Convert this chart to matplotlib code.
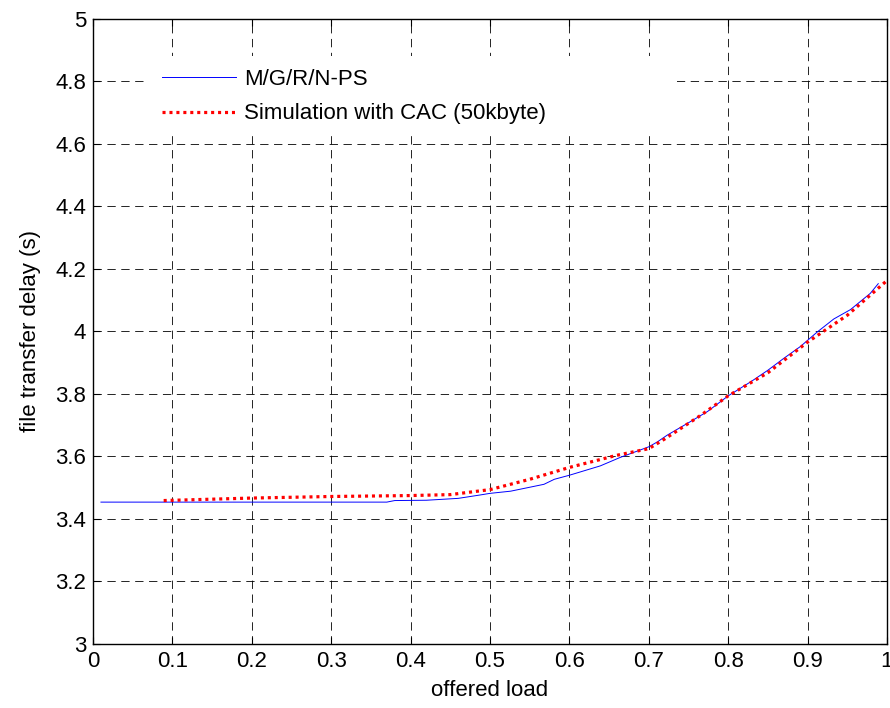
import matplotlib
matplotlib.use('Agg')
import matplotlib.pyplot as plt
from matplotlib.patches import Rectangle

plt.rcParams['font.family'] = ['Liberation Sans', 'DejaVu Sans']
plt.rcParams['lines.scale_dashes'] = False

# analytical model M/G/R/N-PS
load_model = [0.01, 0.10, 0.20, 0.30, 0.37, 0.38, 0.42, 0.46, 0.488, 0.50,
              0.526, 0.568, 0.581, 0.60, 0.639, 0.664, 0.70, 0.711, 0.723,
              0.748, 0.774, 0.80, 0.829, 0.85, 0.87, 0.891, 0.912, 0.933,
              0.954, 0.979, 0.989]
delay_model = [3.454, 3.454, 3.454, 3.454, 3.454, 3.459, 3.460, 3.466, 3.477,
               3.482, 3.489, 3.511, 3.527, 3.540, 3.570, 3.597, 3.631, 3.647,
               3.668, 3.705, 3.744, 3.794, 3.840, 3.876, 3.914, 3.952, 3.998,
               4.040, 4.070, 4.122, 4.153]

# simulation with CAC
load_sim = [0.089, 0.20, 0.30, 0.40, 0.45, 0.50, 0.55, 0.60, 0.66, 0.70,
            0.72, 0.765, 0.80, 0.85, 0.90, 0.95, 1.00]
delay_sim = [3.459, 3.467, 3.472, 3.475, 3.478, 3.494, 3.527, 3.565, 3.604,
             3.625, 3.656, 3.731, 3.794, 3.868, 3.966, 4.052, 4.163]

fig = plt.figure(figsize=(8.9, 7.08), dpi=100)
ax = fig.add_axes([0.1045, 0.0904, 0.8921, 0.8828])

ax.plot(load_model, delay_model, color='#0000ff', linewidth=0.7,
        label='M/G/R/N-PS')
ax.plot(load_sim, delay_sim, color='#ff0000', linewidth=2.3,
        linestyle=(0, (2.2, 2.8)), label='Simulation with CAC (50kbyte)')

ax.set_xlim(0, 1)
ax.set_ylim(3, 5)
ax.set_xticks([i / 10 for i in range(11)])
ax.set_xticklabels(['0', '0.1', '0.2', '0.3', '0.4', '0.5', '0.6', '0.7',
                    '0.8', '0.9', '1'])
ax.set_yticks([3 + i * 0.2 for i in range(11)])
ax.set_yticklabels(['3', '3.2', '3.4', '3.6', '3.8', '4', '4.2', '4.4',
                    '4.6', '4.8', '5'])
ax.tick_params(direction='in', top=True, right=True, length=5, width=0.8,
               labelsize=16, pad=5)
ax.grid(True, color='black', linestyle=(0, (6, 4)), linewidth=0.6)
for s in ax.spines.values():
    s.set_linewidth(1.0)

ax.set_xlabel('offered load', fontsize=16, labelpad=6)
ax.set_ylabel('file transfer delay (s)', fontsize=16, labelpad=10)

# white legend box (matlab style, wider than its text, no border)
ax.add_patch(Rectangle((0.068, 0.813), 0.6675, 0.128, transform=ax.transAxes,
                       facecolor='white', edgecolor='none', zorder=2.5))
leg = ax.legend(loc='upper left', bbox_to_anchor=(0.062, 0.952),
                frameon=False, fontsize=16, handlelength=3.3,
                handletextpad=0.4, labelspacing=0.6)
leg.set_zorder(5)

fig.savefig('out.png', dpi=100)
